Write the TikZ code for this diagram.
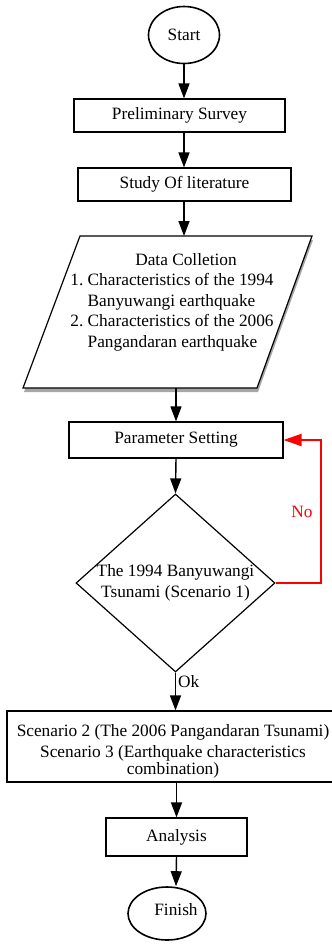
\documentclass[tikz,border=0pt]{standalone}
\usepackage{fontspec}
\setmainfont{Liberation Serif}
\usetikzlibrary{arrows.meta,shadows,shapes.geometric}

\begin{document}
\begin{tikzpicture}[
    x=1pt, y=-1pt,
    font=\fontsize{17.3}{20.5}\selectfont,
    terminal/.style={ellipse, draw, line width=1.6pt, inner sep=0pt},
    process/.style={rectangle, draw, line width=1.2pt, align=center, inner sep=0pt},
    io/.style={draw, line width=1.2pt, fill=white,
        drop shadow={shadow xshift=1pt, shadow yshift=-4pt, fill=gray!70, opacity=1}},
    decision/.style={diamond, draw, line width=1.2pt, align=center, inner sep=0pt, aspect=1.12},
    arrow/.style={-{Triangle[width=11pt,length=15pt]}, line width=1.4pt},
    back/.style={-{Triangle[width=12pt,length=18pt]}, line width=2.2pt, red}
]
    \useasboundingbox (0,0) rectangle (332,951);
    \clip (0,0) rectangle (332,951);

    \node[terminal, minimum width=71pt, minimum height=57pt] (start) at (184,35) {Start};
    \node[process, minimum width=211pt, minimum height=33pt] (survey) at (179.5,115.5) {Preliminary Survey};
    \node[process, minimum width=213pt, minimum height=33pt] (study) at (184.5,184.5) {Study Of literature};

    % data collection parallelogram
    \draw[io] (80,236) coordinate (datatl) -- (312,236) -- (257,388) -- (23,388) coordinate (databl) -- cycle;
    \node (datatxt) at (172,302) {\begin{tabular}{@{}r@{\ }l@{}}
        \multicolumn{2}{c}{\hspace{28pt}Data Colletion}\\
        1. & Characteristics of the 1994\\
           & Banyuwangi earthquake\\
        2. & Characteristics of the 2006\\
           & Pangandaran earthquake
        \end{tabular}};

    \node[process, minimum width=214pt, minimum height=36pt] (param) at (176,440) {Parameter Setting};
    \node[decision, minimum width=199pt, minimum height=178pt] (check) at (175.5,583)
        {The 1994 Banyuwangi\\Tsunami (Scenario 1)};

    \node[process, minimum width=340pt, minimum height=71pt] (scenario) at (177,746.5)
        {\hspace*{-8pt}\raisebox{-5pt}[\height][\depth]{\begin{tabular}{@{}c@{}}
         Scenario 2 (The 2006 Pangandaran Tsunami)\\[1pt]
         Scenario 3 (Earthquake characteristics\\[-3.5pt]
         combination)\end{tabular}}};
    \node[process, minimum width=141pt, minimum height=38pt] (analysis) at (176.5,837) {Analysis};
    \node[terminal, minimum width=78pt, minimum height=53pt] (finish) at (167,913.5) {};
    \node (finishtxt) at (176,910) {Finish};

    % main flow
    \draw[arrow] (start.south) -- (start.south |- survey.north);
    \draw[arrow] (start.south |- survey.south) -- (start.south |- study.north);
    \draw[arrow] (start.south |- study.south) -- (start.south |- datatl);
    \draw[arrow] (param.north |- databl) -- (param.north);
    \draw[arrow] (param.south) -- (check.north);
    \draw[arrow] (check.south) -- (check.south |- scenario.north)
        node[pos=0.25, right, inner sep=2pt] {Ok};
    \draw[arrow] (analysis.north |- scenario.south) -- (analysis.north);
    \draw[arrow] (analysis.south) -- (finishtxt.north |- finish.north);

    % loop back
    \draw[back] (check.east) -- ++(45,0) |- node[pos=0.25, left, inner sep=7pt] {No} (param.east);
\end{tikzpicture}
\end{document}
